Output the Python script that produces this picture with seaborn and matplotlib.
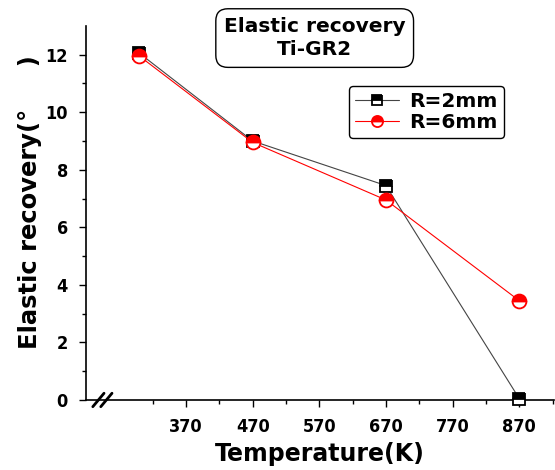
import numpy as np
import pandas as pd
import matplotlib
matplotlib.use('Agg')
import matplotlib.pyplot as plt
import seaborn as sns

sns.set_style('ticks')
plt.rcParams['font.family'] = ['DejaVu Sans']
plt.rcParams['text.color'] = 'black'
plt.rcParams['axes.labelcolor'] = 'black'
plt.rcParams['xtick.color'] = 'black'
plt.rcParams['ytick.color'] = 'black'

# data
temperature = [300, 470, 670, 870]
recovery_r2 = [12.05, 9.0, 7.45, 0.05]
recovery_r6 = [11.95, 8.95, 6.95, 3.45]
series_names = ['R=2mm', 'R=6mm']
xtick_values = [370, 470, 570, 670, 770, 870]

df = pd.DataFrame({
    'temperature': temperature * 2,
    'recovery': recovery_r2 + recovery_r6,
    'series': [series_names[0]] * 4 + [series_names[1]] * 4,
})

fig = plt.figure(figsize=(5.55, 4.7), dpi=100)
ax = fig.add_axes([0.155, 0.149, 0.843, 0.796])

styles = {
    'R=2mm': dict(color='#444444', marker='s', markersize=9, mec='black', mfc='black'),
    'R=6mm': dict(color='red', marker='o', markersize=10, mec='red', mfc='red'),
}
for name in series_names:
    sub = df[df['series'] == name]
    st = styles[name]
    sns.lineplot(data=sub, x='temperature', y='recovery', ax=ax, label=name,
                 color=st['color'], linewidth=0.8, marker=st['marker'],
                 markersize=st['markersize'], markeredgecolor=st['mec'],
                 markerfacecolor=st['mfc'], fillstyle='top',
                 markerfacecoloralt='white', markeredgewidth=1.3,
                 clip_on=False, zorder=5)

ax.set_xlim(220, 922)
ax.set_ylim(0, 13)
ax.set_xticks(xtick_values)
ax.set_xticks(np.arange(320, 921, 50), minor=True)
ax.set_yticks(np.arange(0, 13, 2))
ax.set_yticks(np.arange(0, 13, 1), minor=True)

tick_font = dict(family='DejaVu Sans', stretch='condensed', weight='bold', size=13)
ax.set_xticklabels([str(v) for v in xtick_values], fontdict=tick_font)
ax.set_yticklabels([str(v) for v in range(0, 13, 2)], fontdict=tick_font)
ax.tick_params(axis='x', which='major', direction='out', length=5, width=1, pad=8)
ax.tick_params(axis='y', which='major', direction='out', length=5, width=1, pad=8)
ax.tick_params(axis='both', which='minor', direction='out', length=3, width=1)

for s in ['top', 'right']:
    ax.spines[s].set_visible(False)
for s in ['left', 'bottom']:
    ax.spines[s].set_linewidth(1.2)
    ax.spines[s].set_color('black')

ax.set_xlabel('Temperature(K)', fontsize=17, fontweight='bold', labelpad=4)
ax.set_ylabel('Elastic recovery(°     )', fontsize=17.5, fontweight='bold')
ax.yaxis.set_label_coords(-0.094, 0.53)

# axis break marks
for dx in (-4, 4):
    ax.plot([0.035 + dx / 470 - 0.012, 0.035 + dx / 470 + 0.012],
            [-0.018, 0.018], transform=ax.transAxes, color='black',
            linewidth=2, clip_on=False)

fig.text(0.567, 0.919, 'Elastic recovery\nTi-GR2', ha='center', va='center',
         fontsize=14.5, fontweight='bold', linespacing=1.3,
         bbox=dict(boxstyle='round,pad=0.4,rounding_size=0.6',
                   facecolor='white', edgecolor='black', linewidth=1))

leg = ax.legend(loc='center', bbox_to_anchor=(0.768, 0.762),
                bbox_transform=fig.transFigure, frameon=True, fancybox=True,
                prop=dict(weight='bold', size=14.5), handlelength=2.2,
                handletextpad=0.5, borderpad=0.3, labelspacing=0.1,
                markerscale=0.8)
leg.get_frame().set_edgecolor('black')
leg.get_frame().set_linewidth(1)
leg.get_frame().set_alpha(1)

fig.savefig('out.png', dpi=100)
